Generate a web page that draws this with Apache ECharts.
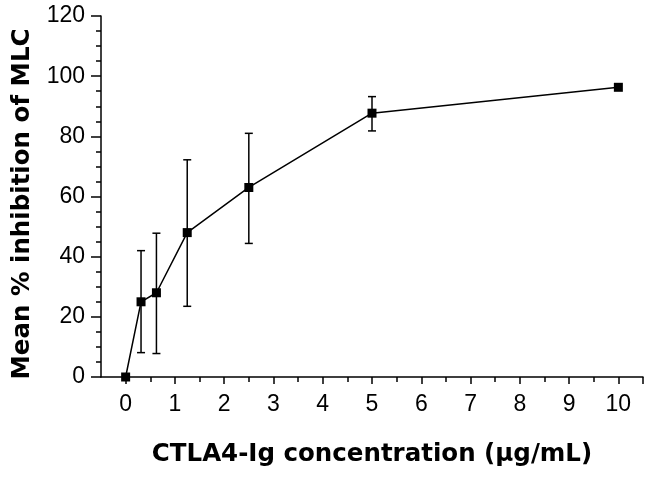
<!DOCTYPE html>
<html>
<head>
<meta charset="utf-8">
<script src="https://cdn.jsdelivr.net/npm/echarts@6/dist/echarts.min.js"></script>
<style>html,body{margin:0;padding:0;background:#fff;}#c{width:651px;height:477px;}#e{position:absolute;left:0;top:0;font:10px monospace;white-space:pre-wrap;width:640px;}</style>
</head>
<body>
<div id="c"></div>
<div id="e"></div>
<script>
// Data
var concentrations = [0, 0.3125, 0.625, 1.25, 2.5, 5, 10];
var meanInhibition = [0, 25, 28, 48, 63, 87.7, 96.3];
var errLower = [0, 8.1, 7.8, 23.5, 44.4, 81.8, 96.3];
var errUpper = [0, 42, 47.8, 72.2, 81, 93.2, 96.3];
var xTicks = [0,1,2,3,4,5,6,7,8,9,10];
var yTicks = [0,20,40,60,80,100,120];

var FONT = '"Liberation Sans", Arial, sans-serif';
var TITLE_FONT = '"DejaVu Sans", "Liberation Sans", sans-serif';
var lineData = concentrations.map(function(c, i){ return [c, meanInhibition[i]]; });
var errData = concentrations.map(function(c, i){ return [c, errLower[i], errUpper[i]]; });

var gLeft = 101, gRight = 8, gTop = 16, gBottom = 100;
var W = 651;
var unit = (W - gLeft - gRight) / 11;
var gLeft2 = gLeft + unit * 0.5;

function seg(x1, y1, x2, y2) {
  return {type: 'line', shape: {x1: x1, y1: y1, x2: x2, y2: y2}, style: {stroke: '#000', lineWidth: 1.5}};
}

try {
var chart = echarts.init(document.getElementById('c'), null, {renderer: 'canvas'});
chart.setOption({
  backgroundColor: '#fff',
  animation: false,
  grid: [
    {left: gLeft, right: gRight, top: gTop, bottom: gBottom},
    {left: gLeft2, right: gRight, top: gTop, bottom: gBottom}
  ],
  xAxis: [
    {
      type: 'value', gridIndex: 0, min: -0.5, max: 10.5,
      axisLine: {show: true, onZero: false, lineStyle: {color: '#000', width: 1.5}},
      axisTick: {show: false}, axisLabel: {show: false}, splitLine: {show: false},
      name: 'CTLA4-Ig concentration (\u03bcg/mL)', nameLocation: 'middle', nameGap: 65,
      nameTextStyle: {fontFamily: TITLE_FONT, fontSize: 24.5, fontWeight: 'bold', color: '#000'}
    },
    {
      type: 'value', gridIndex: 1, min: 0, max: 10.5, interval: 1,
      axisLine: {show: false, onZero: false},
      axisTick: {show: true, length: 7, lineStyle: {color: '#000', width: 1.5}},
      minorTick: {show: true, splitNumber: 2, length: 5, lineStyle: {color: '#000', width: 1.5}},
      axisLabel: {show: true, showMaxLabel: false, margin: 16, fontFamily: FONT, fontSize: 23, color: '#000',
        formatter: function(v){ return xTicks.indexOf(v) >= 0 ? String(v) : ''; }},
      splitLine: {show: false}
    }
  ],
  yAxis: [
    {
      type: 'value', gridIndex: 0, min: 0, max: 120, interval: 20,
      axisLine: {show: true, onZero: false, lineStyle: {color: '#000', width: 1.5}},
      axisTick: {show: true, length: 10, lineStyle: {color: '#000', width: 1.5}},
      minorTick: {show: true, splitNumber: 4, length: 5, lineStyle: {color: '#000', width: 1.5}},
      axisLabel: {margin: 16, fontFamily: FONT, fontSize: 23, color: '#000',
        formatter: function(v){ return yTicks.indexOf(v) >= 0 ? String(v) : ''; }},
      splitLine: {show: false},
      name: 'Mean % inhibition of MLC', nameLocation: 'middle', nameGap: 66, nameRotate: 90,
      nameTextStyle: {fontFamily: TITLE_FONT, fontSize: 24.5, fontWeight: 'bold', color: '#000', padding: [0, 15, 0, 0]}
    },
    {
      type: 'value', gridIndex: 1, min: 0, max: 120, interval: 20, show: false
    }
  ],
  series: [
    {
      type: 'custom', xAxisIndex: 0, yAxisIndex: 0, data: errData, z: 2,
      renderItem: function(params, api){
        var x = api.value(0);
        var lo = api.coord([x, api.value(1)]);
        var hi = api.coord([x, api.value(2)]);
        if (Math.abs(hi[1] - lo[1]) < 1) return {type: 'group', children: []};
        var cap = 4;
        return {type: 'group', children: [
          seg(lo[0], lo[1], hi[0], hi[1]),
          seg(lo[0]-cap, lo[1], lo[0]+cap, lo[1]),
          seg(hi[0]-cap, hi[1], hi[0]+cap, hi[1])
        ]};
      }
    },
    {
      type: 'line', xAxisIndex: 0, yAxisIndex: 0, data: lineData, z: 3,
      symbol: 'rect', symbolSize: 9, showSymbol: true,
      lineStyle: {color: '#000', width: 1.5},
      itemStyle: {color: '#000', borderWidth: 0}
    }
  ]
});
} catch (err) {
  document.getElementById('e').textContent = String(err) + '\n' + (err.stack || '');
}
</script>
</body>
</html>
